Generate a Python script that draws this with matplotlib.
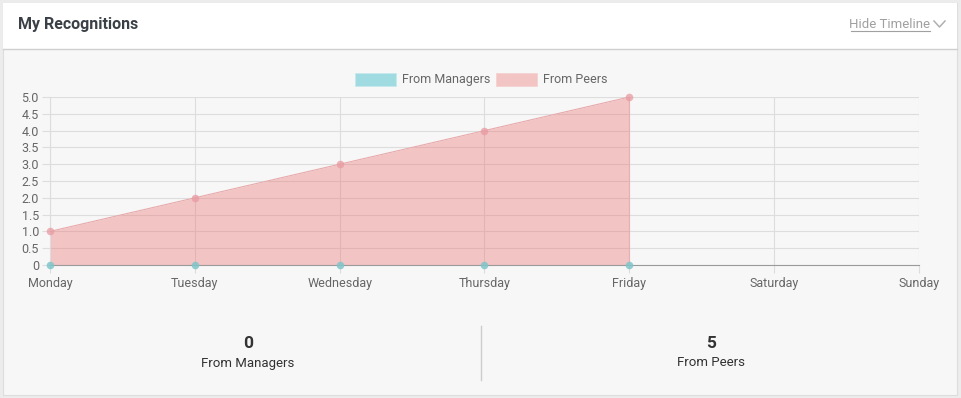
import matplotlib.pyplot as plt
from matplotlib.patches import Rectangle
from matplotlib.lines import Line2D

plt.rcParams["font.family"] = ["Roboto", "DejaVu Sans"]

days = ["Monday", "Tuesday", "Wednesday", "Thursday", "Friday", "Saturday", "Sunday"]
from_managers = [0, 0, 0, 0, 0]
from_peers = [1, 2, 3, 4, 5]
y_ticks = [0, 0.5, 1.0, 1.5, 2.0, 2.5, 3.0, 3.5, 4.0, 4.5, 5.0]
y_labels = ["0", "0.5", "1.0", "1.5", "2.0", "2.5", "3.0", "3.5", "4.0", "4.5", "5.0"]
total_managers = sum(from_managers)
total_peers = max(from_peers)

W, H = 961, 398
fig = plt.figure(figsize=(W / 100, H / 100), dpi=100)
fig.patch.set_facecolor("#ececec")


def fx(x):
    return x / W


def fy(y):
    return 1 - y / H


# card background
fig.add_artist(Rectangle((fx(3), fy(395)), fx(954), 392 / H, facecolor="#f7f7f7",
                         edgecolor="#dddddd", lw=0.8, transform=fig.transFigure))
fig.add_artist(Rectangle((fx(3), fy(49)), fx(954), 46 / H, facecolor="white",
                         edgecolor="none", transform=fig.transFigure))
fig.add_artist(Line2D([fx(3), fx(957)], [fy(49), fy(49)], color="#cfcfcf", lw=1,
                      transform=fig.transFigure))

fig.text(fx(18), fy(25), "My Recognitions", fontsize=11.5, fontweight="bold",
         color="#3b4047", va="center", ha="left")
fig.text(fx(930), fy(25), "Hide Timeline", fontsize=9.5, color="#a0a0a0",
         va="center", ha="right")
fig.add_artist(Line2D([fx(851), fx(930)], [fy(31), fy(31)], color="#a0a0a0", lw=0.8,
                      transform=fig.transFigure))
fig.add_artist(Line2D([fx(934), fx(939.5), fx(945)], [fy(21), fy(27), fy(21)],
                      color="#b0b0b0", lw=1.1, transform=fig.transFigure))

# chart
ax = fig.add_axes([fx(50), fy(265), (919 - 50) / W, (265 - 97) / H])
ax.set_zorder(5)
ax.set_facecolor("none")
x_all = list(range(len(days)))
xm = x_all[:len(from_managers)]
xp = x_all[:len(from_peers)]

ax.fill_between(xp, from_peers, 0, color=(235 / 255, 120 / 255, 120 / 255), alpha=0.4,
                lw=0, zorder=2)
ax.plot(xp, from_peers, color="#e8a9ab", lw=0.8, zorder=3)
ax.plot([xp[-1], xp[-1]], [0, from_peers[-1]], color="#e8b0b2", lw=0.8, zorder=3)
ax.scatter(xp, from_peers, s=30, color="#e89aa2", alpha=0.75, zorder=4, lw=0,
           clip_on=False)
ax.scatter(xm, from_managers, s=30, color="#7fc6ca", alpha=0.85, zorder=5, lw=0,
           clip_on=False)

ax.set_xlim(0, 6)
ax.set_ylim(0, 5)
ax.set_xticks(x_all)
ax.set_xticklabels(days)
ax.set_yticks(y_ticks)
ax.set_yticklabels(y_labels)
ax.grid(True, color="#dddddd", lw=0.8, zorder=1)
ax.set_axisbelow(True)
ax.tick_params(axis="both", colors="#dddddd", labelcolor="#666666", labelsize=9,
               length=6, width=0.8, pad=2)
ax.tick_params(axis="x", pad=3)
for side in ["top", "right"]:
    ax.spines[side].set_visible(False)
ax.spines["left"].set_color("#dddddd")
ax.spines["bottom"].set_color("#9a9a9a")
ax.spines["bottom"].set_zorder(3)

# legend
fig.add_artist(Rectangle((fx(355), fy(86)), fx(41), 13 / H, facecolor="#9fdbe0",
                         edgecolor="#c8eaec", lw=0.6, transform=fig.transFigure))
fig.text(fx(402), fy(79.5), "From Managers", fontsize=9, color="#666666",
         va="center", ha="left")
fig.add_artist(Rectangle((fx(496), fy(86)), fx(41), 13 / H, facecolor="#f2c4c4",
                         edgecolor="#f4d2d2", lw=0.6, transform=fig.transFigure))
fig.text(fx(543), fy(79.5), "From Peers", fontsize=9, color="#666666",
         va="center", ha="left")

# totals
fig.add_artist(Line2D([fx(480.5), fx(480.5)], [fy(326), fy(380)], color="#cccccc", lw=1,
                      transform=fig.transFigure))
fig.text(fx(248), fy(343), str(total_managers), fontsize=12.5, fontweight="bold",
         color="#333333", ha="center", va="center")
fig.text(fx(248), fy(363), "From Managers", fontsize=9.5, color="#333333",
         ha="center", va="center")
fig.text(fx(711), fy(343), str(total_peers), fontsize=12.5, fontweight="bold",
         color="#333333", ha="center", va="center")
fig.text(fx(711), fy(363), "From Peers", fontsize=9.5, color="#333333",
         ha="center", va="center")

fig.savefig("out.png", dpi=100, facecolor=fig.get_facecolor())
